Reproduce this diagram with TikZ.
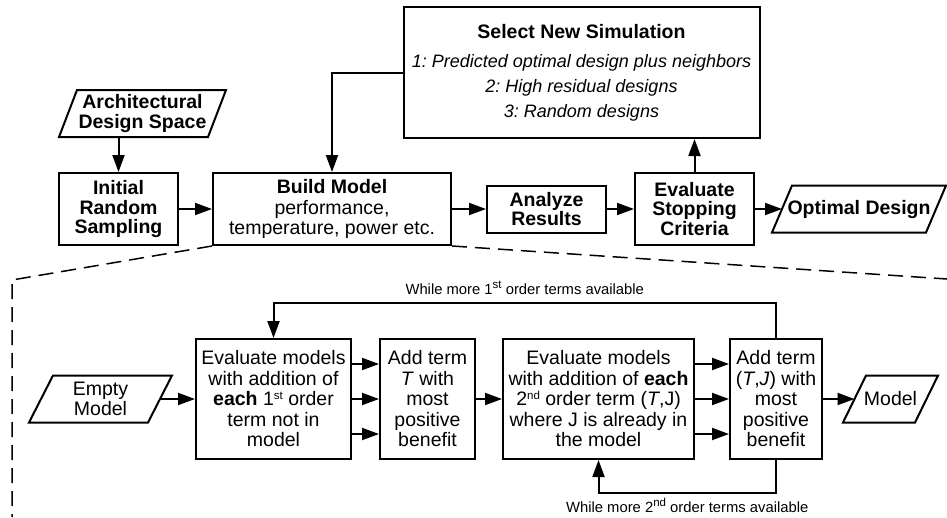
\documentclass[tikz,border=0pt]{standalone}
\usepackage{fontspec}
\setmainfont{Liberation Sans}
\frenchspacing
\usetikzlibrary{arrows.meta,graphs}
\newcommand{\sups}[1]{\raisebox{6.5pt}{\fontsize{11.5}{11.5}\selectfont #1}}
\tikzset{
    stepbox/.style ={
        shape=rectangle,
        draw=black,
        line width=2pt,
        align=center,
        inner sep=0pt,
        font=\fontsize{19.5}{20.5}\selectfont
    },
    headbox/.style ={
        stepbox,
        font=\fontsize{19.5}{19.5}\selectfont\bfseries
    },
    lean/.style ={
        shape=rectangle,
        align=center,
        inner sep=0pt,
        outer sep=0pt,
        font=\fontsize{19.5}{20.5}\selectfont,
        append after command={\pgfextra{
            \draw[line width=2pt,line join=miter]
                ([xshift=-#1]\tikzlastnode.south west) -- ([xshift=#1]\tikzlastnode.north west)
                -- ([xshift=#1]\tikzlastnode.north east) -- ([xshift=-#1]\tikzlastnode.south east) -- cycle;
        }}
    },
    note/.style ={
        font=\fontsize{14.8}{16}\selectfont,
        inner sep=3pt
    },
    zoomline/.style ={
        line width=1.5pt,
        dash pattern=on 15pt off 8pt
    }
}

\begin{document}
\begin{tikzpicture}[x=1pt,y=-1pt,line width=2pt,>={Triangle[length=17pt,width=12pt]}]
    \useasboundingbox (0,0) rectangle (947,517);
    % upper flow
    \node[stepbox,minimum width=356pt,minimum height=131pt,font=\fontsize{18}{25}\selectfont\itshape] (select) at(581.5,72.5)
        {{\upshape\bfseries\fontsize{19.5}{25}\selectfont Select New Simulation}\\[4pt]
         1: Predicted optimal design plus neighbors\\
         2: High residual designs\\
         3: Random designs};
    \node[lean=9pt,font=\fontsize{19.5}{19.5}\selectfont\bfseries,minimum width=149pt,minimum height=47pt] (arch)
        at(142.5,113.5) {Architectural\\Design Space};
    \node[headbox,minimum width=119pt,minimum height=72pt] (init) at(118.5,209) {Initial\\Random\\Sampling};
    \node[stepbox,minimum width=238pt,minimum height=72pt] (build) at(332,209)
        {\textbf{Build Model}\\performance,\\temperature, power etc.};
    \node[headbox,minimum width=119pt,minimum height=47pt] (analyze) at(546.5,209) {Analyze\\Results};
    \node[headbox,minimum width=119pt,minimum height=72pt] (stop) at(694.5,209) {Evaluate\\Stopping\\Criteria};
    \node[lean=10pt,font=\fontsize{19.5}{19.5}\selectfont\bfseries,minimum width=154pt,minimum height=47pt] (optimal)
        at(859,209) {Optimal Design};
    % model building detail
    \node[lean=12pt,minimum width=119pt,minimum height=47pt] (empty) at(100.5,399) {Empty\\Model};
    \node[stepbox,minimum width=155pt,minimum height=120pt] (eval1) at(273.5,399)
        {Evaluate models\\with addition of\\\textbf{each} 1\sups{st} order\\term not in\\model};
    \node[stepbox,minimum width=95pt,minimum height=120pt] (addT) at(427.5,399)
        {Add term\\\textit{T} with\\most\\positive\\benefit};
    \node[stepbox,minimum width=191pt,minimum height=120pt] (eval2) at(598.5,399)
        {Evaluate models\\with addition of \textbf{each}\\2\sups{nd} order term (\textit{T},J)\\where J is already in\\the model};
    \node[stepbox,minimum width=92pt,minimum height=120pt] (addTJ) at(776,399)
        {Add term\\(\textit{T},\textit{J}) with\\most\\positive\\benefit};
    \node[lean=11.5pt,minimum width=72pt,minimum height=47pt] (model) at(890.5,399) {Model};
    \coordinate (cornerL) at(12,280);
    \coordinate (bottomL) at(12,517);
    \coordinate (edgeR) at(947,279);

    \graph{
        (init)->(build)->(analyze)->(stop)->(optimal);
        (empty)->(eval1)->(addT)->(eval2)->(addTJ)->(model);
    };
    \draw[->] (arch.south -| init) -- (init);
    \draw[->] (select.west) -| (build.north);
    \draw[->] (stop.north) -- (stop |- select.south);
    \draw[->] ([yshift=35pt]eval1.east) -- ([yshift=35pt]addT.west);
    \draw[->] ([yshift=-35pt]eval1.east) -- ([yshift=-35pt]addT.west);
    \draw[->] ([yshift=35pt]eval2.east) -- ([yshift=35pt]addTJ.west);
    \draw[->] ([yshift=-35pt]eval2.east) -- ([yshift=-35pt]addTJ.west);
    \draw[->] (addTJ.north) -- ++(0,-35) coordinate (loop1)
        -- node[note,above=4pt] {While more 1\sups{st} order terms available} (loop1 -| eval1.north)
        -- (eval1.north);
    \draw[->] (addTJ.south) -- ++(0,33) coordinate (loop2)
        -- node[note,below=1pt] {While more 2\sups{nd} order terms available} (loop2 -| eval2.south)
        -- (eval2.south);
    \draw[zoomline] (build.south west) -- (cornerL) -- (bottomL);
    \draw[zoomline] (build.south east) -- (edgeR);
\end{tikzpicture}
\end{document}
